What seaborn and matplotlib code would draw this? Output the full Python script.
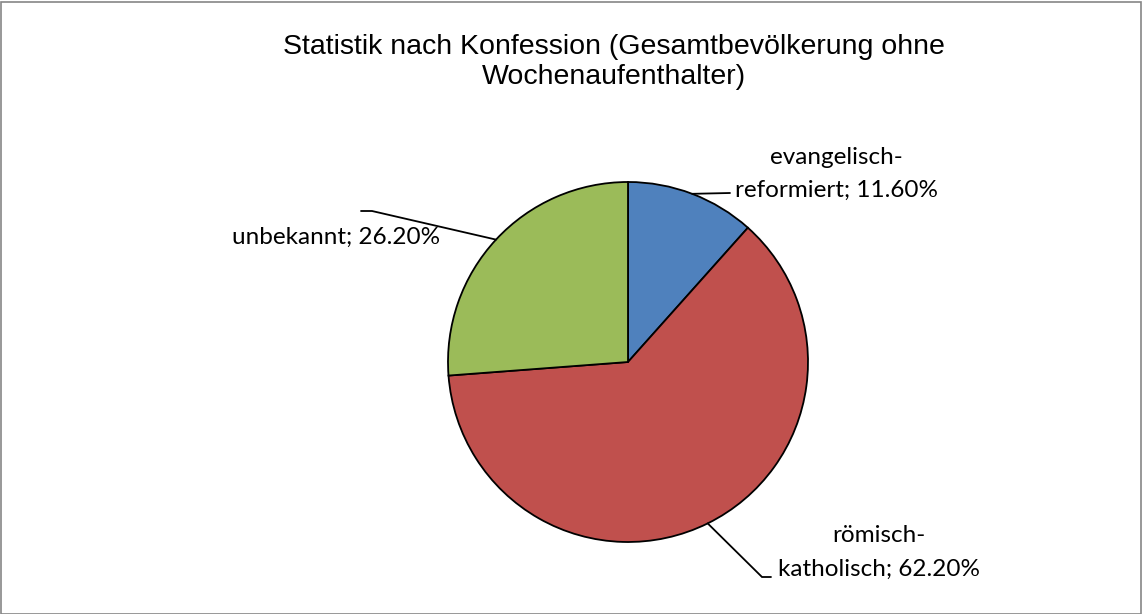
import numpy as np
import matplotlib
matplotlib.use("Agg")
import matplotlib.pyplot as plt
import seaborn as sns

categories = ["evangelisch-\nreformiert", "römisch-\nkatholisch", "unbekannt"]
values = [11.6, 62.2, 26.2]
colors = ["#4F81BD", "#C0504D", "#9BBB59"]
title = "Statistik nach Konfession (Gesamtbevölkerung ohne\nWochenaufenthalter)"

sns.set_style("white")
plt.rcParams['font.family'] = ['Lato', 'DejaVu Sans']

W, H = 1142, 614
FS = 17.5
fig = plt.figure(figsize=(W / 100, H / 100), dpi=100)
ax = fig.add_axes([0, 0, 1, 1])

cx, cy, r = 628, H - 362, 180
wedges, _ = ax.pie(values, colors=colors, startangle=90, counterclock=False,
                   center=(cx, cy), radius=r, frame=True,
                   wedgeprops=dict(edgecolor="black", linewidth=1.3))
ax.set_xlim(0, W)
ax.set_ylim(0, H)
ax.set_aspect('equal')
ax.axis('off')

# label layout in pixels (from top-left)
layout = [
    dict(elbow=(730, 193), end=(730, 193), text=(735, 190)),
    dict(elbow=(762, 577), end=(771, 577), text=(778, 569)),
    dict(elbow=(372, 211), end=(361, 211), text=(440, 237)),
]

for w, v, cat, lay in zip(wedges, values, categories, layout):
    ang = np.deg2rad((w.theta1 + w.theta2) / 2)
    sx, sy = cx + r * np.cos(ang), cy + r * np.sin(ang)
    ex, ey = lay['elbow']
    fx, fy = lay['end']
    ax.plot([sx, ex, fx], [sy, H - ey, H - fy], color='black', lw=1.3,
            solid_joinstyle='miter', zorder=3)
    lab = f"{cat}; {v:.2f}%"
    tx, ty = lay['text']
    if "\n" not in lab:
        ax.text(tx, H - ty, lab, ha='right', va='center', fontsize=FS, color='black')
    else:
        first, second = lab.split("\n")
        t2 = ax.text(tx, H - ty, second, ha='left', va='center', fontsize=FS, color='black')
        fig.canvas.draw()
        bb = t2.get_window_extent()
        ax.text((bb.x0 + bb.x1) / 2, H - ty + 33, first, ha='center', va='center',
                fontsize=FS, color='black')

fig.text(614 / W, 1 - 62 / H, title, ha='center', va='center', fontsize=20.5,
         color='black', family=['Liberation Sans', 'DejaVu Sans'], linespacing=1.15)

fig.patches.append(plt.Rectangle((0.5 / W, 0.5 / H), (W - 2) / W, (H - 2) / H,
                                 transform=fig.transFigure, fill=False,
                                 edgecolor='#868686', lw=1.2))
fig.savefig("out.png", dpi=100)
